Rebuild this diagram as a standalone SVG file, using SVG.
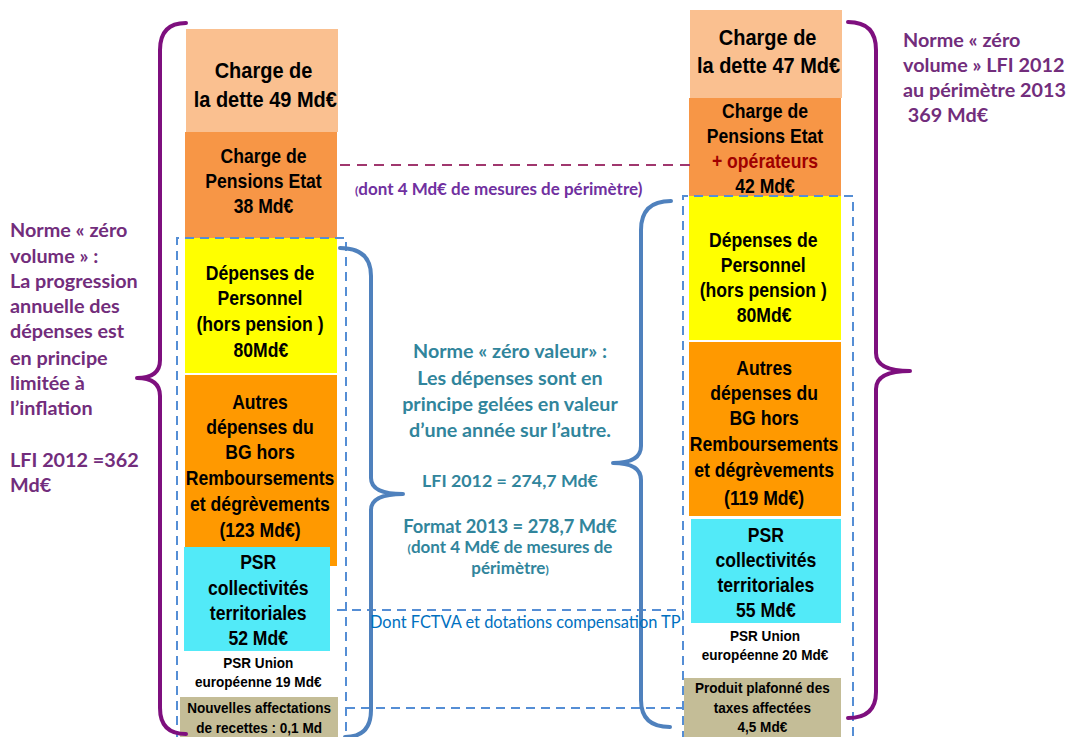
<svg xmlns="http://www.w3.org/2000/svg" width="1068" height="737" viewBox="0 0 1068 737">
<style>
.col{font-family:"Liberation Sans",Arial,sans-serif;font-weight:bold;fill:#000;text-anchor:middle}
.s20{font-size:22.7px}
.s18{font-size:20px}
.s14{font-size:15.4px}
.cal{font-family:Lato,"Open Sans",sans-serif;font-weight:bold}
.pur{fill:#722D7C;font-size:19.8px}
.teal{fill:#31859C;text-anchor:middle}
.dash{fill:none;stroke:#558ED5;stroke-width:2;stroke-dasharray:9 6}
.bracep{fill:none;stroke:#7E0F7E;stroke-width:4;stroke-linecap:round;stroke-linejoin:round}
.braceb{fill:none;stroke:#4F81BD;stroke-width:4;stroke-linecap:round;stroke-linejoin:round}
</style>
<rect width="1068" height="737" fill="#fff"/>

<!-- Left column -->
<g id="l-dette">
<rect x="186" y="29" width="152" height="103" fill="#FAC090"/>
<g transform="matrix(0.88 0 0 1 31.2 0)">
<text class="col s20" x="264" y="78">Charge de</text>
<text class="col s20" x="266" y="107">la dette 49 Md€</text>
</g>
</g>
<g id="l-pensions">
<rect x="185" y="132" width="152" height="106" fill="#F79646"/>
<g transform="matrix(0.88 0 0 1 31.2 0)">
<text class="col s18" x="264" y="163">Charge de</text>
<text class="col s18" x="264" y="188">Pensions Etat</text>
<text class="col s18" x="264" y="213">38 Md€</text>
</g>
</g>
<g id="l-personnel">
<rect x="185" y="238" width="152" height="135" fill="#FFFF00"/>
<g transform="matrix(0.88 0 0 1 31.2 0)">
<text class="col s18" x="260" y="280">Dépenses de</text>
<text class="col s18" x="260" y="305">Personnel</text>
<text class="col s18" x="260" y="331">(hors pension )</text>
<text class="col s18" x="261" y="357">80Md€</text>
</g>
</g>
<g id="l-autres">
<rect x="185" y="375" width="152" height="191" fill="#FF9900"/>
<g transform="matrix(0.88 0 0 1 31.2 0)">
<text class="col s18" x="260" y="409">Autres</text>
<text class="col s18" x="260" y="434">dépenses du</text>
<text class="col s18" x="260" y="459">BG hors</text>
<text class="col s18" x="260" y="485">Remboursements</text>
<text class="col s18" x="260" y="511">et dégrèvements</text>
<text class="col s18" x="260" y="537">(123 Md€)</text>
</g>
</g>
<g id="l-psr">
<rect x="184" y="547" width="146" height="104" fill="#52EAF8"/>
<g transform="matrix(0.88 0 0 1 31.2 0)">
<text class="col s18" x="258" y="569">PSR</text>
<text class="col s18" x="258" y="595">collectivités</text>
<text class="col s18" x="258" y="620">territoriales</text>
<text class="col s18" x="258" y="645">52 Md€</text>
</g>
</g>
<g id="l-ue">
<g transform="matrix(0.88 0 0 1 31.2 0)">
<text class="col s14" x="258" y="668">PSR Union</text>
<text class="col s14" x="258" y="687">européenne 19 Md€</text>
</g>
</g>
<g id="l-affect">
<rect x="180" y="697" width="158" height="40" fill="#C4BD97"/>
<g transform="matrix(0.88 0 0 1 31.2 0)">
<text class="col s14" x="259" y="713">Nouvelles affectations</text>
<text class="col s14" x="259" y="733">de recettes : 0,1 Md</text>
</g>
</g>

<!-- Right column -->
<g id="r-dette">
<rect x="690" y="10" width="152" height="88" fill="#FAC090"/>
<g transform="matrix(0.88 0 0 1 91.8 0)">
<text class="col s20" x="768" y="45">Charge de</text>
<text class="col s20" x="769" y="73">la dette 47 Md€</text>
</g>
</g>
<g id="r-pensions">
<rect x="689" y="98" width="152" height="98" fill="#F79646"/>
<g transform="matrix(0.88 0 0 1 91.8 0)">
<text class="col s18" x="765" y="118">Charge de</text>
<text class="col s18" x="765" y="143">Pensions Etat</text>
<text class="col s18" x="765" y="168" style="fill:#A00000">+ opérateurs</text>
<text class="col s18" x="765" y="193">42 Md€</text>
</g>
</g>
<g id="r-personnel">
<rect x="689" y="196" width="152" height="144" fill="#FFFF00"/>
<g transform="matrix(0.88 0 0 1 91.8 0)">
<text class="col s18" x="763" y="247">Dépenses de</text>
<text class="col s18" x="763" y="272">Personnel</text>
<text class="col s18" x="763" y="297">(hors pension )</text>
<text class="col s18" x="764" y="322">80Md€</text>
</g>
</g>
<g id="r-autres">
<rect x="689" y="342" width="152" height="174" fill="#FF9900"/>
<g transform="matrix(0.88 0 0 1 91.8 0)">
<text class="col s18" x="764" y="375">Autres</text>
<text class="col s18" x="764" y="400">dépenses du</text>
<text class="col s18" x="764" y="425">BG hors</text>
<text class="col s18" x="764" y="451">Remboursements</text>
<text class="col s18" x="764" y="477">et dégrèvements</text>
<text class="col s18" x="764" y="505">(119 Md€)</text>
</g>
</g>
<g id="r-psr">
<rect x="691" y="519" width="150" height="104" fill="#52EAF8"/>
<g transform="matrix(0.88 0 0 1 91.8 0)">
<text class="col s18" x="766" y="542">PSR</text>
<text class="col s18" x="766" y="567">collectivités</text>
<text class="col s18" x="766" y="592">territoriales</text>
<text class="col s18" x="766" y="617">55 Md€</text>
</g>
</g>
<g id="r-ue">
<g transform="matrix(0.88 0 0 1 91.8 0)">
<text class="col s14" x="765" y="641">PSR Union</text>
<text class="col s14" x="765" y="660">européenne 20 Md€</text>
</g>
</g>
<g id="r-taxes">
<rect x="684" y="678" width="157" height="59" fill="#C4BD97"/>
<g transform="matrix(0.88 0 0 1 91.8 0)">
<text class="col s14" x="762" y="693">Produit plafonné des</text>
<text class="col s14" x="762" y="713">taxes affectées</text>
<text class="col s14" x="762" y="732">4,5 Md€</text>
</g>
</g>

<!-- Connectors -->
<g id="connectors">
<line x1="340" y1="165" x2="694" y2="165" fill="none" stroke="#A0376E" stroke-width="2" stroke-dasharray="10 7"/>
<path class="dash" d="M177 740 V238 H346 V740"/>
<path class="dash" d="M683 740 V196 H853 V740"/>
<path class="dash" d="M337 610 H683 M346 708 H683"/>
<path class="bracep" d="M186 23 Q160 23 160 50 L160 360 Q160 378 137 378 Q160 378 160 396 L160 708 Q160 734 186 734"/>
<path class="bracep" d="M848 22 Q876 22 876 50 L876 353 Q876 371 910 371 Q876 371 876 389 L876 692 Q876 718 848 718"/>
<path class="braceb" d="M340 248 Q371 248 371 276 L371 478 Q371 494 403 494 Q371 494 371 510 L371 710 Q371 737 345 737"/>
<path class="braceb" d="M671 201 Q641 201 641 230 L641 446 Q641 463 613 463 Q641 463 641 480 L641 700 Q641 727 670 727"/>
</g>

<!-- Annotations -->
<g id="note-left" class="cal pur">
<text x="10" y="237">Norme « zéro</text>
<text x="10" y="263">volume » :</text>
<text x="10" y="288">La progression</text>
<text x="10" y="313">annuelle des</text>
<text x="10" y="338">dépenses est</text>
<text x="10" y="365">en principe</text>
<text x="10" y="390">limitée à</text>
<text x="10" y="415">l’inflation</text>
<text x="10" y="467">LFI 2012 =362</text>
<text x="10" y="492">Md€</text>
</g>
<g id="note-right" class="cal pur">
<text x="903" y="47">Norme « zéro</text>
<text x="903" y="72">volume » LFI 2012</text>
<text x="903" y="97">au périmètre 2013</text>
<text x="903" y="122" xml:space="preserve"> 369 Md€</text>
</g>
<g id="note-perim" class="cal">
<text x="355" y="195" fill="#7030A0" font-size="17"><tspan font-size="12">(</tspan>dont 4 Md€ de mesures de périmètre)</text>
</g>
<g id="note-mid" class="cal teal">
<text x="510" y="358" font-size="19.7">Norme « zéro valeur» :</text>
<text x="510" y="385" font-size="19.7">Les dépenses sont en</text>
<text x="510" y="411" font-size="19.7">principe gelées en valeur</text>
<text x="510" y="437" font-size="19.7">d’une année sur l’autre.</text>
<text x="510" y="487" font-size="17.8">LFI 2012 = 274,7 Md€</text>
<text x="510" y="533" font-size="18.3">Format 2013 = 278,7 Md€</text>
<text x="510" y="553" font-size="17"><tspan font-size="12">(</tspan>dont 4 Md€ de mesures de</text>
<text x="510" y="574" font-size="17">périmètre<tspan font-size="12">)</tspan></text>
</g>
<g id="note-fctva">
<text x="370" y="628" font-family="Lato,'Open Sans',sans-serif" font-size="16.4" fill="#0070C0">Dont FCTVA et dotations compensation TP</text>
</g>
</svg>
